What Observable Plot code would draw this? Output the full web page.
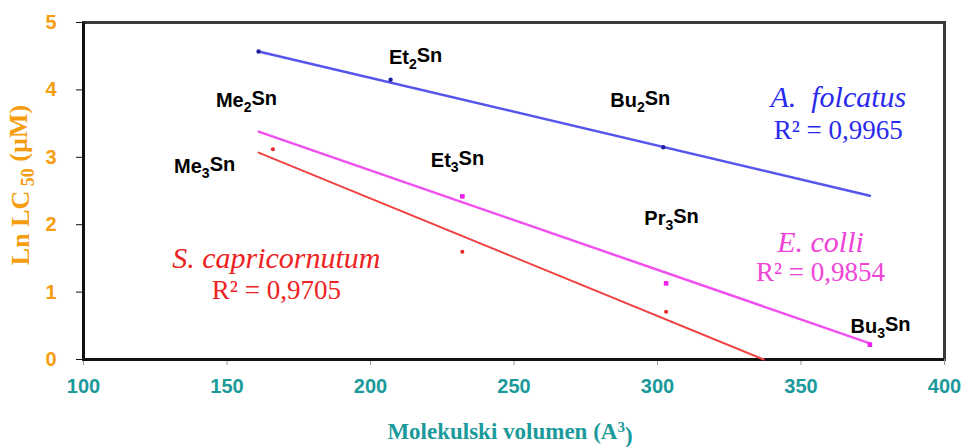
<!DOCTYPE html>
<html><head><meta charset="utf-8">
<script src="https://cdn.jsdelivr.net/npm/d3@7"></script>
<script src="https://cdn.jsdelivr.net/npm/@observablehq/plot@0.6"></script>
<style>body{margin:0;background:#fff} #chart svg{display:block}</style>
</head><body><div id="chart"></div><script>
// axis ticks
const xTicks = [100, 150, 200, 250, 300, 350, 400];
const yTicks = [0, 1, 2, 3, 4, 5];

// measured points (molecular volume, Ln LC50)
const folcatusX = [161, 207, 302];
const folcatusY = [4.57, 4.15, 3.15];
const colliX = [232, 303, 374];
const colliY = [2.42, 1.13, 0.22];
const capriX = [166, 232, 303];
const capriY = [3.12, 1.60, 0.71];

// fitted regression lines (end points)
const folcatusFitX = [161, 374];
const folcatusFitY = [4.57, 2.43];
const colliFitX = [161, 374];
const colliFitY = [3.38, 0.24];
const capriFitX = [161, 337];
const capriFitY = [3.07, 0.0];

// compound labels
const compBase = ["Me", "Me", "Et", "Et", "Bu", "Pr", "Bu"];
const compSub  = ["2", "3", "2", "3", "2", "3", "3"];
const compX = [156.8, 142.2, 215.7, 230.3, 294.0, 304.9, 377.7];
const compY = [3.84, 2.86, 4.48, 2.95, 3.84, 2.09, 0.49];

// species labels
const speciesName = ["A.\u00a0 folcatus", "E. colli", "S. capricornutum"];
const speciesR2 = ["R\u00b2 = 0,9965", "R\u00b2 = 0,9854", "R\u00b2 = 0,9705"];
const speciesX = [363, 356.8, 167.2];
const speciesY = [3.89, 1.74, 1.50];
const speciesR2Y = [3.40, 1.29, 1.02];
const speciesColor = ["#2a2aee", "#ee44d8", "#ee2222"];

const pts = (xs, ys) => xs.map((x, i) => ({x, y: ys[i]}));
const comps = compBase.map((b, i) => ({b, s: compSub[i], x: compX[i], y: compY[i]}));
const species = speciesName.map((n, i) => ({n, r: speciesR2[i], x: speciesX[i], y: speciesY[i], y2: speciesR2Y[i], c: speciesColor[i]}));

const sans = "'Liberation Sans', Arial, sans-serif";
const serif = "'Liberation Serif', 'Times New Roman', serif";

const plot = Plot.plot({
  width: 962, height: 447,
  marginLeft: 83, marginRight: 18, marginTop: 22, marginBottom: 88,
  x: {domain: [100, 400]},
  y: {domain: [0, 5]},
  style: {fontFamily: sans, background: "#fff"},
  marks: [
    Plot.frame({stroke: "#3a3a3a", strokeWidth: 3}),
    Plot.axisX(xTicks, {tickSize: 6, tickPadding: 13, tickFormat: "d", stroke: "#999", fill: "#1a9a9a", fontSize: 20, fontWeight: "bold", label: null}),
    Plot.axisY(yTicks, {tickSize: 7, tickPadding: 20, tickFormat: "d", stroke: "#111", fill: "#f59d0e", fontSize: 20, fontWeight: "bold", label: null}),
    Plot.ruleX([100], {stroke: "#111", strokeWidth: 3}),
    Plot.ruleY([0], {stroke: "#111", strokeWidth: 3}),
    Plot.line(pts(folcatusFitX, folcatusFitY), {x: "x", y: "y", stroke: "#5555ee", strokeWidth: 2.5}),
    Plot.line(pts(colliFitX, colliFitY), {x: "x", y: "y", stroke: "#f050f0", strokeWidth: 2.5}),
    Plot.line(pts(capriFitX, capriFitY), {x: "x", y: "y", stroke: "#ee4444", strokeWidth: 2}),
    Plot.dot(pts(folcatusX, folcatusY), {x: "x", y: "y", r: 2.2, fill: "#2020a0"}),
    Plot.dot(pts(colliX, colliY), {x: "x", y: "y", r: 2.6, symbol: "square", fill: "#ee22ee"}),
    Plot.dot(pts(capriX, capriY), {x: "x", y: "y", r: 2, fill: "#ee2222"}),
    Plot.text(comps, {x: "x", y: "y", text: d => d.b + d.s + "Sn", fontSize: 20, fontWeight: "bold", fill: "#000", className: "chem"}),
    Plot.text(species, {x: "x", y: "y", text: "n", fill: "c", fontSize: 30, fontStyle: "italic", fontFamily: serif}),
    Plot.text(species, {x: "x", y: "y2", text: "r", fill: "c", fontSize: 27, fontFamily: serif})
  ]
});

const svg = d3.select(plot);
// subscripts for compound labels
svg.selectAll(".chem text").each(function(_, i) {
  const d = comps[i];
  const t = d3.select(this);
  t.text(null);
  t.append("tspan").text(d.b);
  t.append("tspan").attr("dy", "0.35em").attr("font-size", 14).text(d.s);
  t.append("tspan").attr("dy", "-0.35em").text("Sn");
});

// y axis title
const yl = svg.append("text")
  .attr("transform", "translate(29,185) rotate(-90)")
  .attr("text-anchor", "middle")
  .attr("fill", "#f59d0e").attr("font-family", serif).attr("font-weight", "bold").attr("font-size", 26);
yl.append("tspan").text("Ln LC");
yl.append("tspan").attr("dy", "0.3em").attr("font-size", 18).text(" 50");
yl.append("tspan").attr("dy", "-0.3em").text(" (\u00b5M)");

// x axis title
const xl = svg.append("text")
  .attr("x", 510).attr("y", 439)
  .attr("text-anchor", "middle")
  .attr("fill", "#1a9a9a").attr("font-family", serif).attr("font-weight", "bold").attr("font-size", 23);
xl.append("tspan").text("Molekulski volumen (A");
xl.append("tspan").attr("dy", "-0.45em").attr("font-size", 15).text("3");
xl.append("tspan").attr("dy", "0.45em").text(")");

document.getElementById("chart").appendChild(plot);
</script></body></html>
